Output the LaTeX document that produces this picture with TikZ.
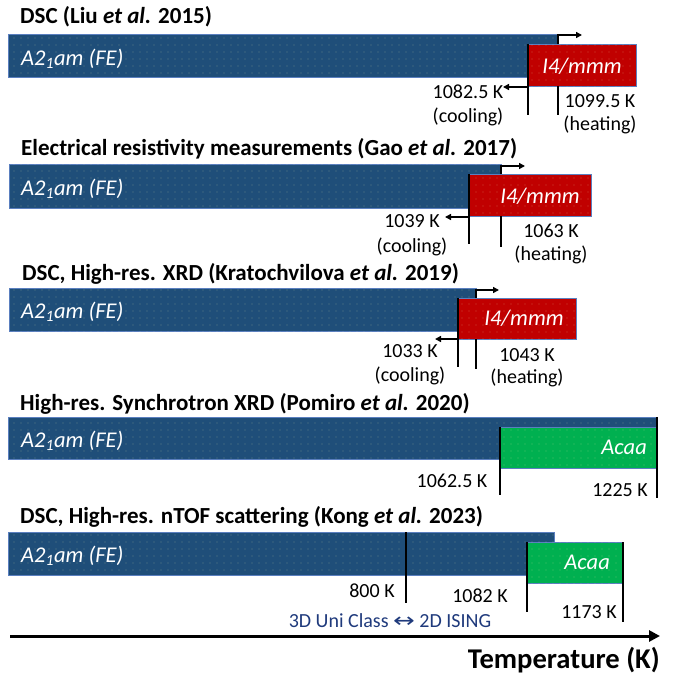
\documentclass[tikz,border=0pt]{standalone}
\usepackage{fontspec}
\setmainfont{Carlito}
\newfontfamily\dejavu{DejaVu Sans}
\usetikzlibrary{arrows.meta,patterns.meta,calc}
\definecolor{barblue}{HTML}{1F4E79}
\definecolor{boxred}{HTML}{C00000}
\definecolor{boxgreen}{HTML}{00B050}
\definecolor{edgeblue}{HTML}{5A7FBF}
\definecolor{navytext}{HTML}{1F3A7C}
\definecolor{dotcol}{HTML}{F2F0B0}
\tikzset{
  dotted fill/.style={postaction={fill opacity=0.3, pattern={Dots[radius=0.55pt,distance=7pt]}, pattern color=dotcol}},
  phasebar/.style 2 args={draw=edgeblue, line width=0.7pt, fill=barblue, dotted fill, anchor=north west, inner sep=0pt, outer sep=0pt, minimum width=#1pt, minimum height=#2pt},
  redbox/.style 2 args={draw=edgeblue, line width=0.7pt, fill=boxred, dotted fill, anchor=north west, inner sep=0pt, outer sep=0pt, minimum width=#1pt, minimum height=#2pt},
  greenbox/.style 2 args={draw=edgeblue, line width=0.7pt, fill=boxgreen, dotted fill, anchor=north west, inner sep=0pt, outer sep=0pt, minimum width=#1pt, minimum height=#2pt},
  ttl/.style={font=\fontsize{23}{27}\selectfont\bfseries, inner sep=0pt, anchor=base west},
  ph/.style={font=\fontsize{22.5}{26}\selectfont\itshape, text=white, inner sep=0pt},
  lab/.style={font=\fontsize{20}{24}\selectfont, inner sep=0pt, anchor=base},
  vl/.style={line width=2pt},
  harrow/.style={line width=1.5pt, -{Triangle[length=6pt,width=6pt]}},
}
\begin{document}
\begin{tikzpicture}[x=1pt,y=-1pt]
\useasboundingbox (0,0) rectangle (677,675);
\fill[white] (0,0) rectangle (677,675);

% ---------- Panel 1 ----------
\node[ttl] (t1) at (20,23.5) {DSC (Liu \textit{et al.} 2015)};
\node[phasebar={550}{43}] (b1) at (8,34) {};
\node[redbox={108}{42}] (r1) at (528,44) {};
\node[ph, anchor=base west] (p1) at (21,65) {A2\textsubscript{1}am (FE)};
\node[ph, anchor=base] (q1) at (582,73) {I4/mmm};
\coordinate (h1t) at (558,35);
\coordinate (h1a) at (582,35);
\coordinate (h1b) at (558,115);
\coordinate (c1b) at (528,115);
\coordinate (c1a) at (503,87);
\draw[vl] (r1.north west) -- (c1b);
\draw[harrow] (h1t |- r1.north) -- (h1t) -- (h1a);
\draw[vl] (h1t |- r1.south) -- (h1b);
\draw[harrow] (r1.west |- c1a) -- (c1a);
\node[lab] (l1a) at (468,98) {1082.5 K};
\node[lab] (l1b) at (468,122) {(cooling)};
\node[lab] (l1c) at (600,107) {1099.5 K};
\node[lab] (l1d) at (600,130) {(heating)};

% ---------- Panel 2 ----------
\node[ttl] (t2) at (21,155) {Electrical resistivity measurements (Gao \textit{et al.} 2017)};
\node[phasebar={492}{44}] (b2) at (9,164) {};
\node[redbox={122}{42}] (r2) at (469,174) {};
\node[ph, anchor=base west] (p2) at (21,195) {A2\textsubscript{1}am (FE)};
\node[ph, anchor=base] (q2) at (540,203) {I4/mmm};
\coordinate (h2t) at (501,166);
\coordinate (h2a) at (525,166);
\coordinate (h2b) at (501,247);
\coordinate (c2b) at (469,244);
\coordinate (c2a) at (445,217);
\draw[vl] (r2.north west) -- (c2b);
\draw[harrow] (h2t |- r2.north) -- (h2t) -- (h2a);
\draw[vl] (h2t |- r2.south) -- (h2b);
\draw[harrow] (r2.west |- c2a) -- (c2a);
\node[lab] (l2a) at (412,227) {1039 K};
\node[lab] (l2b) at (412,252) {(cooling)};
\node[lab] (l2c) at (551,237) {1063 K};
\node[lab] (l2d) at (551,260) {(heating)};

% ---------- Panel 3 ----------
\node[ttl] (t3) at (22,280) {DSC, High-res. XRD (Kratochvilova \textit{et al.} 2019)};
\node[phasebar={467}{43}] (b3) at (9,288) {};
\node[redbox={118}{41}] (r3) at (458,298) {};
\node[ph, anchor=base west] (p3) at (21,318) {A2\textsubscript{1}am (FE)};
\node[ph, anchor=base] (q3) at (524,325) {I4/mmm};
\coordinate (h3t) at (476,290);
\coordinate (h3a) at (499,290);
\coordinate (h3b) at (476,369);
\coordinate (c3b) at (458,367);
\coordinate (c3a) at (435,339);
\draw[vl] (r3.north west) -- (c3b);
\draw[harrow] (h3t |- r3.north) -- (h3t) -- (h3a);
\draw[vl] (h3t |- r3.south) -- (h3b);
\draw[harrow] (r3.west |- c3a) -- (c3a);
\node[lab] (l3a) at (410,357) {1033 K};
\node[lab] (l3b) at (410,381) {(cooling)};
\node[lab] (l3c) at (527,361) {1043 K};
\node[lab] (l3d) at (527,383) {(heating)};

% ---------- Panel 4 ----------
\node[ttl] (t4) at (20,410) {High-res. Synchrotron XRD (Pomiro \textit{et al.} 2020)};
\node[phasebar={649}{42}] (b4) at (8,417) {};
\node[greenbox={157}{41}] (g4) at (500,427) {};
\node[ph, anchor=base west] (p4) at (21,447) {A2\textsubscript{1}am (FE)};
\node[ph, anchor=base east] (q4) at (647,454) {Acaa};
\coordinate (v4a) at (500,495);
\coordinate (v4b) at (657,498);
\draw[vl] (g4.north west) -- (v4a);
\draw[vl] (b4.north east) -- (v4b);
\node[lab] (l4a) at (452,487) {1062.5 K};
\node[lab] (l4b) at (620,496) {1225 K};

% ---------- Panel 5 ----------
\node[ttl] (t5) at (20,523) {DSC, High-res. nTOF scattering (Kong \textit{et al.} 2023)};
\node[phasebar={546}{43}] (b5) at (8,532) {};
\node[greenbox={96}{41}] (g5) at (527,542) {};
\node[ph, anchor=base west] (p5) at (21,562) {A2\textsubscript{1}am (FE)};
\node[ph, anchor=base east] (q5) at (610,569) {Acaa};
\coordinate (v5a) at (406,603);
\coordinate (v5b) at (527,612);
\coordinate (v5c) at (623,622);
\draw[vl] (v5a |- b5.north) -- (v5a);
\draw[vl] (g5.north west) -- (v5b);
\draw[vl] (g5.north east) -- (v5c);
\node[lab] (l5a) at (372,597) {800 K};
\node[lab] (l5b) at (480,602) {1082 K};
\node[lab] (l5c) at (589,618) {1173 K};
\node[lab, text=navytext, font=\fontsize{20}{24}\selectfont] (l5d) at (390,627) {3D Uni Class \scalebox{1.3}[1]{\dejavu ↔} 2D ISING};

% ---------- Axis ----------
\coordinate (ax0) at (10,636);
\coordinate (ax1) at (660,636);
\draw[line width=3pt, -{Triangle[length=11pt,width=11pt]}] (ax0) -- (ax1);
\node[font=\fontsize{28.6}{32}\selectfont\bfseries, inner sep=0pt, anchor=base east] (ax) at (660,668) {Temperature (K)};
\end{tikzpicture}
\end{document}
